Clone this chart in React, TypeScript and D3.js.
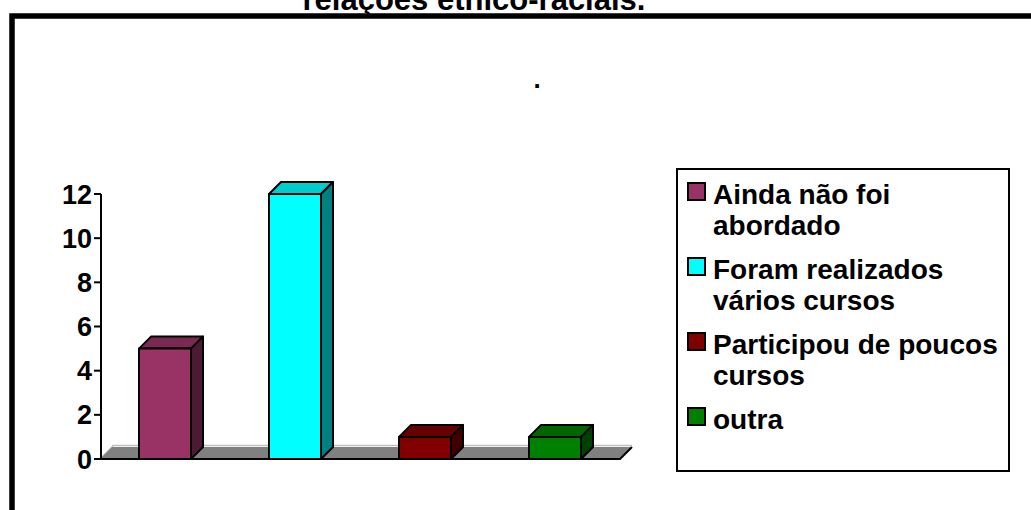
import React from 'react';
import * as d3 from 'd3';

const categories = ['Ainda não foi abordado', 'Foram realizados vários cursos', 'Participou de poucos cursos', 'outra'];
const values = [5, 12, 1, 1];
const yTicks = [0, 2, 4, 6, 8, 10, 12];
const legendLines = [['Ainda não foi', 'abordado'], ['Foram realizados', 'vários cursos'], ['Participou de poucos', 'cursos'], ['outra']];
const frontColors = ['#993366', '#00FFFF', '#800000', '#008000'];
const topColors = ['#7a2952', '#00cccc', '#660000', '#006600'];
const sideColors = ['#4d1a33', '#008080', '#400000', '#004000'];
const titleText = 'relações étnico-raciais.';
const chartTitle = '.';

const FONT = '"Liberation Sans", Arial, Helvetica, sans-serif';

export default function App() {
  const x = d3.scaleBand<string>().domain(categories).range([100, 620]).paddingInner(0.6).paddingOuter(0.3);
  const y = d3.scaleLinear().domain([0, 12]).range([459, 194]);
  const dx = 12;
  const dy = -12;
  const y0 = y(0);
  const xL = 100;
  const xR = 620;

  let legendY = 204;
  const legendItems = legendLines.map((lines, i) => {
    const item = { lines, i, base: legendY };
    legendY += (lines.length - 1) * 31 + 44;
    return item;
  });

  return (
    <svg width={1031} height={510} style={{ position: 'absolute', left: 0, top: 0, background: '#fff' }} fontFamily={FONT}>
      <rect x={0} y={0} width={1031} height={510} fill="#fff" />
      <text x={474} y={10} textAnchor="middle" fontSize={31} fontWeight="bold">{titleText}</text>
      <rect x={12} y={16} width={1100} height={600} fill="none" stroke="#000" strokeWidth={5.5} />
      <text x={537} y={88} textAnchor="middle" fontSize={26} fontWeight="bold">{chartTitle}</text>

      {/* floor */}
      <line x1={xL + 1} y1={y0 - 1} x2={xL + dx + 1} y2={y0 + dy - 1} stroke="#c0c0c0" strokeWidth={1.5} />
      <line x1={xL + dx} y1={y0 + dy - 1.5} x2={xR + dx} y2={y0 + dy - 1.5} stroke="#c0c0c0" strokeWidth={1.5} />
      <polygon
        points={`${xL},${y0} ${xR},${y0} ${xR + dx},${y0 + dy} ${xL + dx},${y0 + dy}`}
        fill="#808080"
      />
      <polyline points={`${xL},${y0} ${xR},${y0} ${xR + dx},${y0 + dy}`} fill="none" stroke="#000" strokeWidth={2} />

      {/* y axis */}
      <line x1={101} y1={y(12)} x2={101} y2={y0} stroke="#000" strokeWidth={2} />
      {yTicks.map((t) => (
        <g key={t}>
          <line x1={94} y1={y(t)} x2={101} y2={y(t)} stroke="#000" strokeWidth={2} />
          <text x={92} y={y(t) + 9.5} textAnchor="end" fontSize={27} fontWeight="bold">{t}</text>
        </g>
      ))}

      {/* bars */}
      {categories.map((c, i) => {
        const bx = x(c)!;
        const bw = x.bandwidth();
        const top = y(values[i]);
        return (
          <g key={c} stroke="#000" strokeWidth={2} strokeLinejoin="round">
            <polygon points={`${bx},${top} ${bx + dx},${top + dy} ${bx + bw + dx},${top + dy} ${bx + bw},${top}`} fill={topColors[i]} />
            <polygon points={`${bx + bw},${top} ${bx + bw + dx},${top + dy} ${bx + bw + dx},${y0 + dy} ${bx + bw},${y0}`} fill={sideColors[i]} />
            <rect x={bx} y={top} width={bw} height={y0 - top} fill={frontColors[i]} />
          </g>
        );
      })}

      {/* legend */}
      <rect x={677} y={169} width={332} height={302} fill="#fff" stroke="#000" strokeWidth={2} />
      {legendItems.map(({ lines, i, base }) => (
        <g key={i}>
          <rect x={688} y={base - 21} width={17} height={17} fill={frontColors[i]} stroke="#000" strokeWidth={2} />
          {lines.map((l, j) => (
            <text key={j} x={713} y={base + j * 31} fontSize={28} fontWeight="bold">{l}</text>
          ))}
        </g>
      ))}
    </svg>
  );
}
